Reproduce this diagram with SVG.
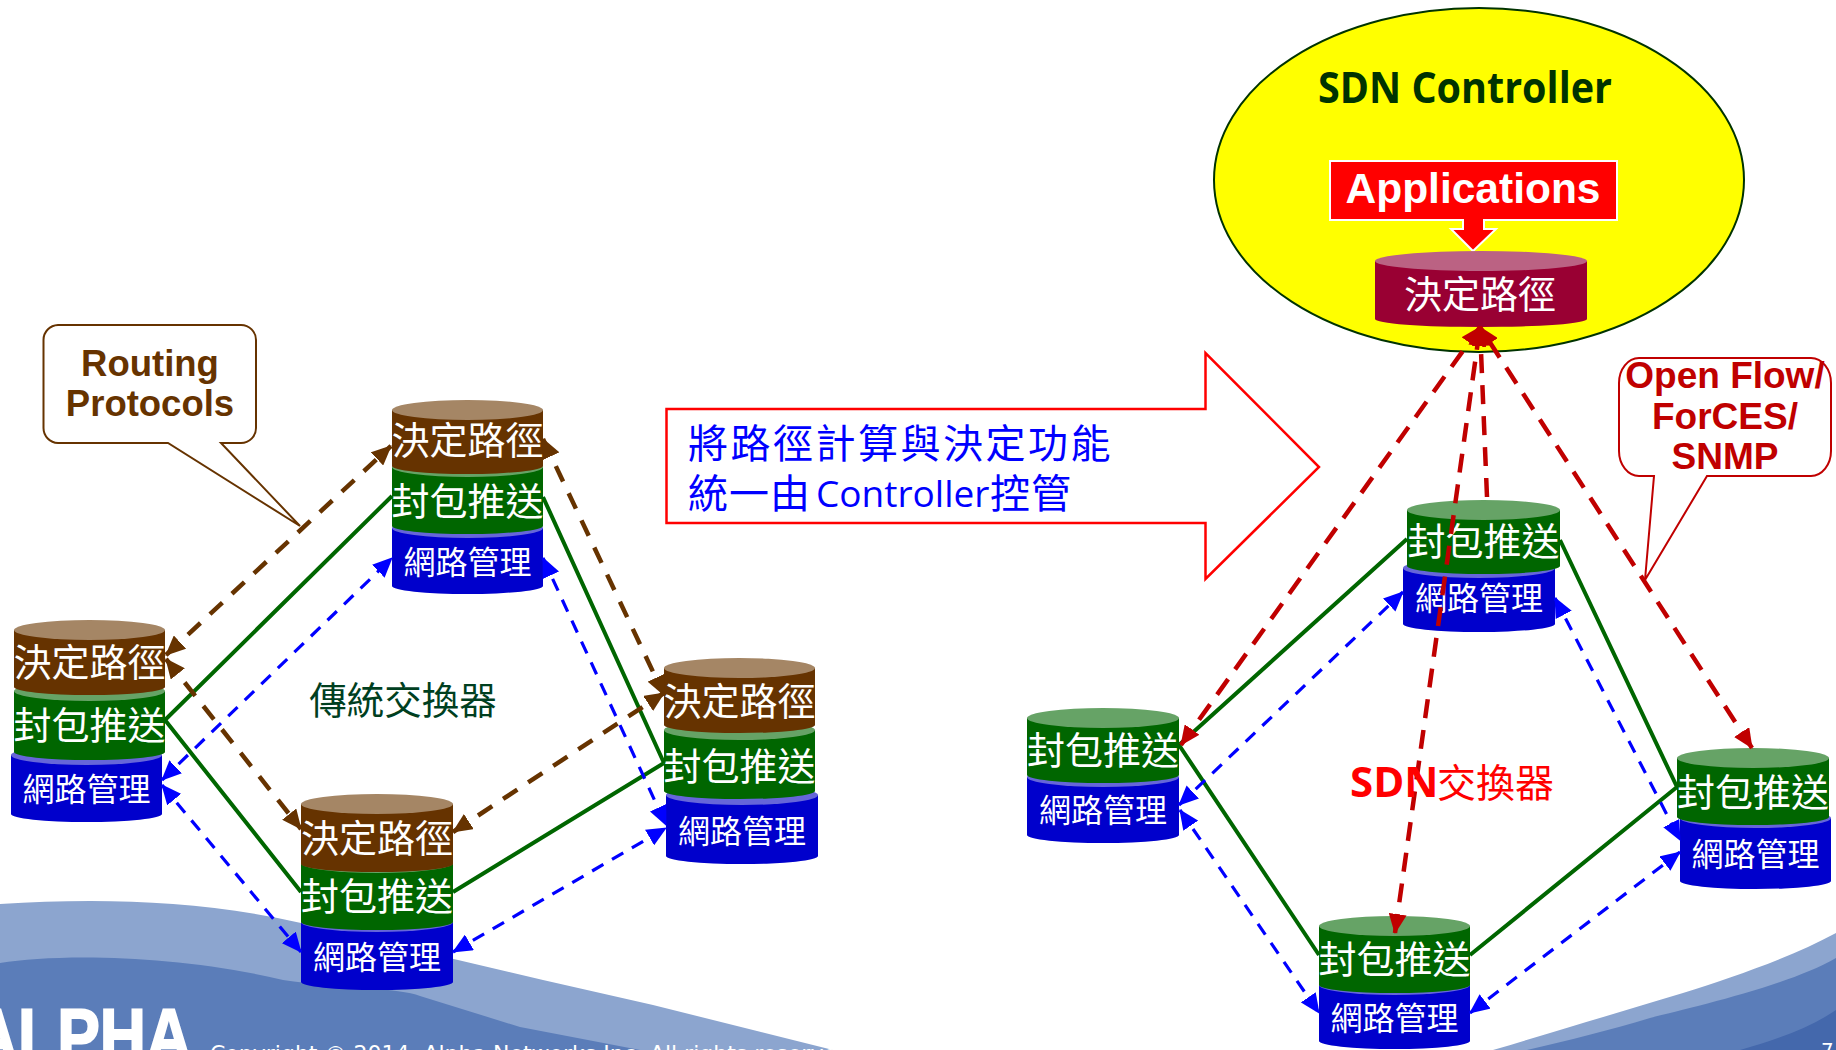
<svg xmlns="http://www.w3.org/2000/svg" width="1836" height="1050" viewBox="0 0 1836 1050">
<style>
.cjk{font-family:"Noto Sans CJK TC","Noto Sans",sans-serif}
.lab{fill:#fff;text-anchor:middle;font-family:"Noto Sans CJK TC","Noto Sans",sans-serif;font-size:38px}
.sm{font-size:32px}
.ar{font-family:"Liberation Sans",Arial,sans-serif;font-weight:700;text-anchor:middle}
.brT{fill:#A58665}.br{fill:#663300}
.grT{fill:#66A366}.gr{fill:#006600}
.blT{fill:#6666D9}.bl{fill:#0000CC}
.maT{fill:#BB6283}.ma{fill:#990033}
.c{fill:none}
.sg{stroke:#006600;stroke-width:4}
.db{stroke:#663300;stroke-width:4.500;stroke-dasharray:17 13;marker-start:url(#hb);marker-end:url(#hb)}
.du{stroke:#0000FF;stroke-width:3.200;stroke-dasharray:13 10;marker-start:url(#hu);marker-end:url(#hu)}
.dr{stroke:#C00000;stroke-width:4.500;stroke-dasharray:19 12;marker-start:url(#hr);marker-end:url(#hr)}
</style>
<defs>
<marker id="hb" markerUnits="userSpaceOnUse" markerWidth="20" markerHeight="18" refX="19" refY="9" orient="auto-start-reverse"><path d="M0,0L20,9L0,18Z" fill="#663300"/></marker>
<marker id="hu" markerUnits="userSpaceOnUse" markerWidth="20" markerHeight="18" refX="19" refY="9" orient="auto-start-reverse"><path d="M0,0L20,9L0,18Z" fill="#0000FF"/></marker>
<marker id="hr" markerUnits="userSpaceOnUse" markerWidth="20" markerHeight="18" refX="19" refY="9" orient="auto-start-reverse"><path d="M0,0L20,9L0,18Z" fill="#C00000"/></marker>
</defs>
<rect width="1836" height="1050" fill="#fff"/>
<g id="background">
<path d="M0,904C100,898 200,900 301,923L543,980L653,1005L753,1030L833,1050H0Z" fill="#8CA5CF"/>
<path d="M0,963C60,953 180,955 283,980C340,988 400,988 420,996L520,1027L640,1050H0Z" fill="#5B7DB9"/>
<path d="M1493,1050C1560,1030 1620,1012 1683,993C1730,978 1790,958 1836,933V1050Z" fill="#8CA5CF"/>
<path d="M1527,1050C1570,1040 1610,1030 1650,1018C1690,1008 1790,985 1836,958V1050Z" fill="#5B7DB9"/>
<path d="M1740,1050C1775,1040 1810,1028 1836,1010V1050Z" fill="#4468AC"/>
<text x="-28" y="1062" font-family="'Liberation Sans',Arial,sans-serif" font-weight="700" font-size="76" fill="#fff" stroke="#fff" stroke-width="2" textLength="220" lengthAdjust="spacingAndGlyphs">ALPHA</text>
<text x="210" y="1061" font-family="'DejaVu Sans',sans-serif" font-size="22" fill="#fff">Copyright © 2014, Alpha Networks Inc. All rights reserved.</text>
<text x="1821" y="1057" font-family="'DejaVu Sans',sans-serif" font-size="20" fill="#fff">7</text>
</g>

<g id="controller">
<ellipse cx="1479" cy="180" rx="265" ry="172" fill="#FFFF00" stroke="#003300" stroke-width="2"/>
<text x="1465" y="103" font-family="'Open Sans',sans-serif" font-weight="700" font-size="43" fill="#003300" text-anchor="middle" textLength="294" lengthAdjust="spacingAndGlyphs">SDN Controller</text>
</g>
<g id="applications">
<rect x="1330" y="161" width="287" height="59" fill="#FF0000" stroke="#fff" stroke-width="2"/>
<path d="M1463,220V229H1451L1473,251L1496,229H1484V220Z" fill="#FF0000" stroke="#fff" stroke-width="2"/>
<path d="M1464,218H1483V231H1464Z" fill="#FF0000"/>
<text x="1473" y="203" class="ar" font-size="42.500" fill="#fff">Applications</text>
</g>
<g id="controller-route">
<path class="ma" d="M1375,261V319A106,8 0 0 0 1587,319V261Z"/>
<ellipse class="maT" cx="1481" cy="261" rx="106" ry="10"/>
<text class="lab" x="1480" y="308">決定路徑</text>
</g>

<g id="transfer-arrow">
<path d="M666.500,409H1205.500V353L1319,467L1205.500,579V523H666.500Z" fill="#fff" stroke="#FF0000" stroke-width="2.500"/>
<text x="688" y="458" class="cjk" font-size="40" letter-spacing="2.500" fill="#0000FF">將路徑計算與決定功能</text>
<text y="508" class="cjk" font-size="40" fill="#0000FF"><tspan x="688" letter-spacing="1">統一由</tspan><tspan x="816" y="507" font-family="'Open Sans',sans-serif" font-size="37">Controller</tspan><tspan x="990" y="508" letter-spacing="1">控管</tspan></text>
</g>

<g id="sw-a">
<path class="bl" d="M11,755V814A75.500,8 0 0 0 162,814V755Z"/><ellipse class="blT" cx="86.500" cy="755" rx="75.500" ry="10"/>
<path class="gr" d="M14,691V752A75.500,8 0 0 0 165,752V691Z"/><ellipse class="grT" cx="89.500" cy="691" rx="75.500" ry="10"/>
<path class="br" d="M14,630V687A75.500,8 0 0 0 165,687V630Z"/><ellipse class="brT" cx="89.500" cy="630" rx="75.500" ry="10"/>
<text class="lab" x="89.500" y="676">決定路徑</text><text class="lab" x="89.500" y="739">封包推送</text><text class="lab sm" x="86.500" y="801">網路管理</text>
</g>
<g id="sw-b">
<path class="bl" d="M392,528V586A75.500,8 0 0 0 543,586V528Z"/><ellipse class="blT" cx="467.500" cy="528" rx="75.500" ry="10"/>
<path class="gr" d="M392,467V526A75.500,8 0 0 0 543,526V467Z"/><ellipse class="grT" cx="467.500" cy="467" rx="75.500" ry="10"/>
<path class="br" d="M392,410V466A75.500,8 0 0 0 543,466V410Z"/><ellipse class="brT" cx="467.500" cy="410" rx="75.500" ry="10"/>
<text class="lab" x="467.500" y="454">決定路徑</text><text class="lab" x="467.500" y="515">封包推送</text><text class="lab sm" x="467.500" y="574">網路管理</text>
</g>
<g id="sw-c">
<path class="bl" d="M301,922V982A76,8 0 0 0 453,982V922Z"/><ellipse class="blT" cx="377" cy="922" rx="76" ry="10"/>
<path class="gr" d="M301,863V922A76,8 0 0 0 453,922V863Z"/><ellipse class="grT" cx="377" cy="863" rx="76" ry="10"/>
<path class="br" d="M301,804V864A76,8 0 0 0 453,864V804Z"/><ellipse class="brT" cx="377" cy="804" rx="76" ry="10"/>
<text class="lab" x="377" y="852">決定路徑</text><text class="lab" x="377" y="910">封包推送</text><text class="lab sm" x="377" y="969">網路管理</text>
</g>
<g id="sw-d">
<path class="bl" d="M666,795V856A76,8 0 0 0 818,856V795Z"/><ellipse class="blT" cx="742" cy="795" rx="76" ry="10"/>
<path class="gr" d="M664,730V791A75.500,8 0 0 0 815,791V730Z"/><ellipse class="grT" cx="739.500" cy="730" rx="75.500" ry="10"/>
<path class="br" d="M664,668V725A75.500,8 0 0 0 815,725V668Z"/><ellipse class="brT" cx="739.500" cy="668" rx="75.500" ry="10"/>
<text class="lab" x="739.500" y="715">決定路徑</text><text class="lab" x="739.500" y="780">封包推送</text><text class="lab sm" x="742" y="843">網路管理</text>
</g>
<g id="sdn-top">
<path class="bl" d="M1403,568V624A76,8 0 0 0 1555,624V568Z"/><ellipse class="blT" cx="1479" cy="568" rx="76" ry="10"/>
<path class="gr" d="M1407,510V566A76.500,8 0 0 0 1560,566V510Z"/><ellipse class="grT" cx="1483.500" cy="510" rx="76.500" ry="10"/>
<text class="lab" x="1483.500" y="555">封包推送</text><text class="lab sm" x="1479" y="610">網路管理</text>
</g>
<g id="sdn-left">
<path class="bl" d="M1027,777V835A76,8 0 0 0 1179,835V777Z"/><ellipse class="blT" cx="1103" cy="777" rx="76" ry="10"/>
<path class="gr" d="M1027,718V775A76,8 0 0 0 1179,775V718Z"/><ellipse class="grT" cx="1103" cy="718" rx="76" ry="10"/>
<text class="lab" x="1103" y="764">封包推送</text><text class="lab sm" x="1103" y="822">網路管理</text>
</g>
<g id="sdn-right">
<path class="bl" d="M1680,818V881A75.500,8 0 0 0 1831,881V818Z"/><ellipse class="blT" cx="1755.500" cy="818" rx="75.500" ry="10"/>
<path class="gr" d="M1677,758V817A76,8 0 0 0 1829,817V758Z"/><ellipse class="grT" cx="1753" cy="758" rx="76" ry="10"/>
<text class="lab" x="1753" y="806">封包推送</text><text class="lab sm" x="1755.500" y="866">網路管理</text>
</g>
<g id="sdn-bottom">
<path class="bl" d="M1319,985V1041A75.500,8 0 0 0 1470,1041V985Z"/><ellipse class="blT" cx="1394.500" cy="985" rx="75.500" ry="10"/>
<path class="gr" d="M1319,926V985A75.500,8 0 0 0 1470,985V926Z"/><ellipse class="grT" cx="1394.500" cy="926" rx="75.500" ry="10"/>
<text class="lab" x="1394.500" y="973">封包推送</text><text class="lab sm" x="1394.500" y="1030">網路管理</text>
</g>

<g id="connectors" class="c">
<path class="sg" d="M165,720L392,496M165,720L301,892M543,497L664,763M453,892L664,763"/>
<path class="sg" d="M1179,745L1407,539M1179,745L1319,955M1560,540L1677,787M1470,955L1677,787"/>
<path class="db" d="M166,655L391,446"/>
<path class="db" d="M543,439L664,695"/>
<path class="db" d="M166,659L301,829"/>
<path class="db" d="M453,832L664,693"/>
<path class="du" d="M162,780L392,558"/>
<path class="du" d="M162,785L301,952"/>
<path class="du" d="M543,558L666,825"/>
<path class="du" d="M453,952L666,828"/>
<path class="du" d="M1179,805L1403,592"/>
<path class="du" d="M1180,810L1319,1013"/>
<path class="du" d="M1555,598L1680,840"/>
<path class="du" d="M1470,1013L1680,852"/>
<path class="dr" d="M1181,745L1480,327"/>
<path class="dr" d="M1752,748L1480,327"/>
<path class="dr" d="M1395,933L1480,327"/>
<path class="dr" style="marker-start:none" d="M1487,497L1480,327"/>
</g>

<g id="routing-callout">
<path d="M58,325H241A15,15 0 0 1 256,340V428A15,15 0 0 1 241,443H221L300,526L168,443H58A15,15 0 0 1 43.500,428V340A15,15 0 0 1 58,325Z" fill="#fff" stroke="#663300" stroke-width="2"/>
<text class="ar" x="150" y="376" font-size="36.500" fill="#663300">Routing</text>
<text class="ar" x="150" y="416" font-size="36.500" fill="#663300">Protocols</text>
</g>
<g id="openflow-callout">
<path d="M1639,358H1811A20,25 0 0 1 1831,383V451A20,25 0 0 1 1811,476H1707L1645,580L1654,476H1639A20,25 0 0 1 1619,451V383A20,25 0 0 1 1639,358Z" fill="#fff" stroke="#C00000" stroke-width="2"/>
<text class="ar" x="1725" y="388" font-size="37" fill="#C00000">Open Flow/</text>
<text class="ar" x="1725" y="429" font-size="37" fill="#C00000">ForCES/</text>
<text class="ar" x="1725" y="469" font-size="37" fill="#C00000">SNMP</text>
</g>
<g id="labels">
<text x="403" y="714" class="cjk" font-size="37.500" fill="#003F1F" text-anchor="middle">傳統交換器</text>
<text x="1350" y="797" font-family="'Open Sans',sans-serif" font-weight="700" font-size="42" fill="#FF0000">SDN<tspan class="cjk" font-weight="400" font-size="39" x="1437">交換器</tspan></text>
</g>
</svg>
